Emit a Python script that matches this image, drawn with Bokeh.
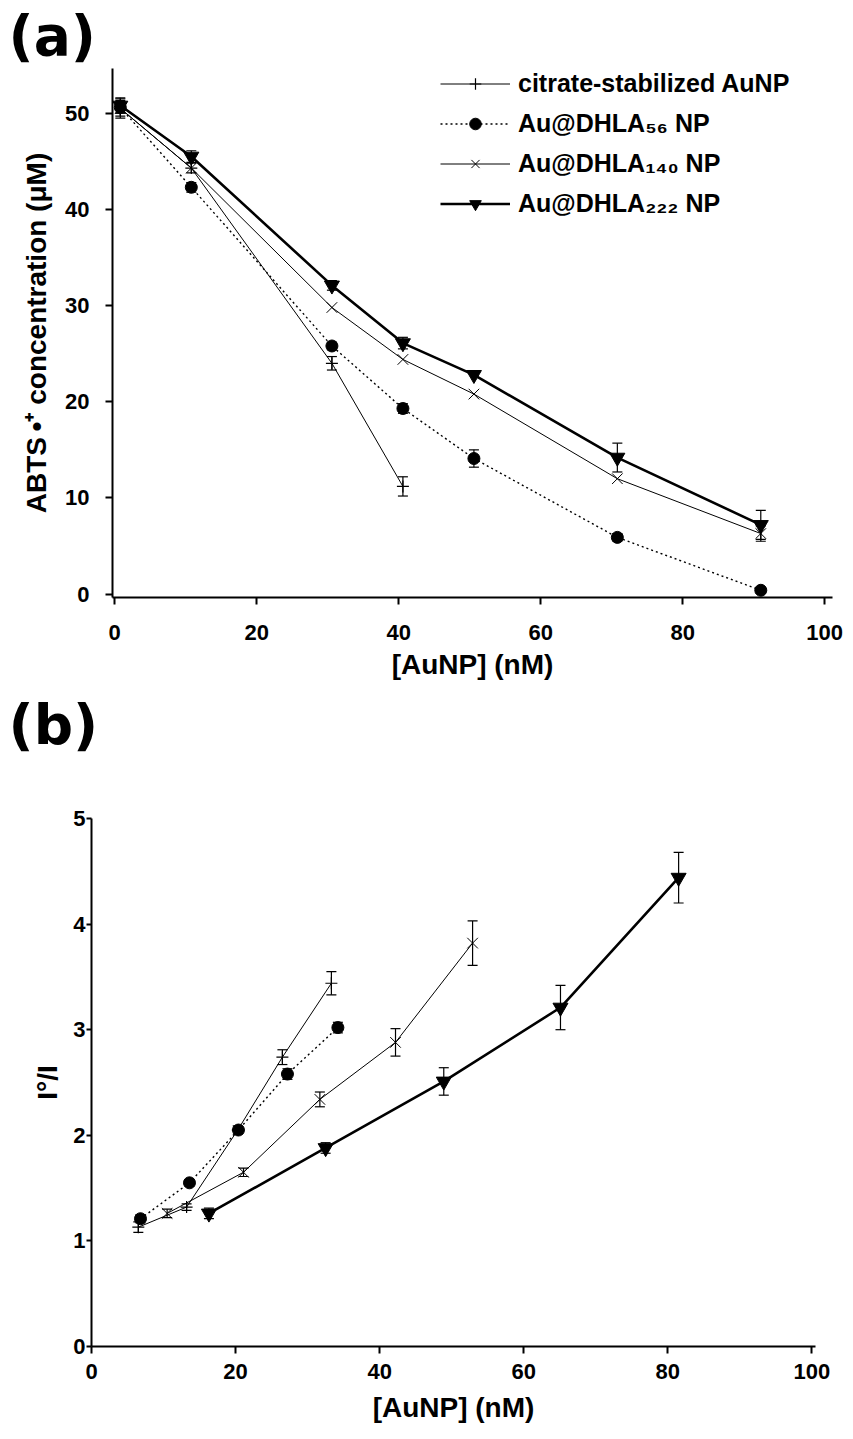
from bokeh.plotting import figure
from bokeh.models import (Whisker, TeeHead, ColumnDataSource, Legend, LegendItem,
                          Title, FixedTicker, Range1d)
from bokeh.embed import file_html
from bokeh.resources import INLINE

FONT = "Liberation Sans"
TITLE_FONT = "DejaVu Sans"

# ---------------- data: panel (a) ----------------
series_names = ["citrate-stabilized AuNP", "Au@DHLA\u2085\u2086 NP",
                "Au@DHLA\u2081\u2084\u2080 NP", "Au@DHLA\u2082\u2082\u2082 NP"]

a_citrate_x = [0.8, 10.8, 30.6, 40.6]
a_citrate_y = [50.5, 44.3, 24.0, 11.2]
a_citrate_err = [1.0, 0.5, 0.7, 1.0]

a_dhla56_x = [0.8, 10.8, 30.6, 40.6, 50.6, 70.8, 91.0]
a_dhla56_y = [50.6, 42.3, 25.8, 19.3, 14.1, 5.9, 0.4]
a_dhla56_err = [0.6, 0.5, 0.4, 0.5, 0.9, 0.4, 0.3]

a_dhla140_x = [0.8, 10.8, 30.6, 40.6, 50.6, 70.8, 91.0]
a_dhla140_y = [50.5, 44.3, 29.8, 24.4, 20.8, 12.0, 6.3]
a_dhla140_err = [0.8, 0.0, 0.0, 0.0, 0.0, 0.0, 0.8]

a_dhla222_x = [0.8, 10.8, 30.6, 40.6, 50.6, 70.8, 91.0]
a_dhla222_y = [50.8, 45.5, 32.1, 26.1, 22.8, 14.2, 7.2]
a_dhla222_err = [0.8, 0.6, 0.5, 0.6, 0.0, 1.5, 1.5]

a_xticks = [0, 20, 40, 60, 80, 100]
a_yticks = [0, 10, 20, 30, 40, 50]

# ---------------- data: panel (b) ----------------
b_citrate_x = [6.5, 13.2, 20.3, 26.5, 33.3]
b_citrate_y = [1.13, 1.32, 2.05, 2.74, 3.44]
b_citrate_err = [0.05, 0.03, 0.04, 0.07, 0.11]

b_dhla56_x = [6.8, 13.6, 20.4, 27.2, 34.2]
b_dhla56_y = [1.21, 1.55, 2.05, 2.58, 3.02]
b_dhla56_err = [0.04, 0.03, 0.03, 0.05, 0.05]

b_dhla140_x = [10.5, 21.1, 31.7, 42.2, 52.9]
b_dhla140_y = [1.26, 1.65, 2.34, 2.88, 3.82]
b_dhla140_err = [0.04, 0.04, 0.07, 0.13, 0.21]

b_dhla222_x = [16.3, 32.5, 48.9, 65.1, 81.5]
b_dhla222_y = [1.26, 1.88, 2.51, 3.21, 4.44]
b_dhla222_err = [0.05, 0.05, 0.13, 0.21, 0.24]

b_xticks = [0, 20, 40, 60, 80, 100]
b_yticks = [0, 1, 2, 3, 4, 5]

# ---------------- styles ----------------
styles = [
    dict(marker="cross", size=12, mlw=1.2, lw=1.0, dash="solid", fill="black"),
    dict(marker="circle", size=12, mlw=1.0, lw=1.4, dash="2 3", fill="black"),
    dict(marker="x", size=15, mlw=1.0, lw=1.0, dash="solid", fill=None),
    dict(marker="inverted_triangle", size=15, mlw=1.0, lw=2.6, dash="solid", fill="black"),
]


def style_axes(p, tick_size, label_size):
    for ax in (p.xaxis[0], p.yaxis[0]):
        ax.axis_line_width = 2
        ax.axis_line_color = "black"
        ax.major_tick_line_width = 2
        ax.major_tick_line_color = "black"
        ax.major_tick_out = 7
        ax.major_tick_in = 0
        ax.minor_tick_line_color = None
        ax.major_label_text_font = FONT
        ax.major_label_text_font_style = "bold"
        ax.major_label_text_font_size = tick_size
        ax.major_label_text_color = "black"
        ax.axis_label_text_font = FONT
        ax.axis_label_text_font_style = "bold"
        ax.axis_label_text_font_size = label_size
        ax.axis_label_text_color = "black"
    p.xgrid.grid_line_color = None
    p.ygrid.grid_line_color = None
    p.outline_line_color = None
    p.background_fill_color = "white"
    p.border_fill_color = "white"


def add_series(p, xs, ys, errs, st, tee):
    src = ColumnDataSource(dict(x=xs, y=ys))
    ln = p.line("x", "y", source=src, line_color="black", line_width=st["lw"],
                line_dash=st["dash"])
    sc = p.scatter("x", "y", source=src, marker=st["marker"], size=st["size"],
                   line_color="black", line_width=st["mlw"],
                   fill_color=st["fill"])
    ex, lo, hi = [], [], []
    for x, y, e in zip(xs, ys, errs):
        if e > 0:
            ex.append(x)
            lo.append(y - e)
            hi.append(y + e)
    if ex:
        wsrc = ColumnDataSource(dict(x=ex, lower=lo, upper=hi))
        w = Whisker(base="x", lower="lower", upper="upper", source=wsrc,
                    dimension="height", line_color="black", line_width=1.2,
                    upper_head=TeeHead(size=tee, line_color="black", line_width=1.2),
                    lower_head=TeeHead(size=tee, line_color="black", line_width=1.2))
        p.add_layout(w)
    return [ln, sc]


# ---------------- panel (a) ----------------
pa = figure(width=853, height=770, output_backend="svg", toolbar_location=None,
            x_range=Range1d(-0.3, 101.1), y_range=Range1d(-0.35, 54.65),
            min_border_left=112, min_border_right=21, min_border_top=68,
            min_border_bottom=173)
ta = Title(text="(a)", text_font=TITLE_FONT, text_font_style="bold",
           text_font_size="55px", text_color="black", offset=-104, standoff=2)
pa.add_layout(ta, "above")

a_data = [(a_citrate_x, a_citrate_y, a_citrate_err),
          (a_dhla56_x, a_dhla56_y, a_dhla56_err),
          (a_dhla140_x, a_dhla140_y, a_dhla140_err),
          (a_dhla222_x, a_dhla222_y, a_dhla222_err)]
items = []
for (xs, ys, es), st, name in zip(a_data, styles, series_names):
    rs = add_series(pa, xs, ys, es, st, 10)
    items.append(LegendItem(label=name, renderers=rs))

style_axes(pa, "22px", "28px")
pa.xaxis.ticker = FixedTicker(ticks=a_xticks)
pa.yaxis.ticker = FixedTicker(ticks=a_yticks)
pa.xaxis.axis_label = "[AuNP] (nM)"
pa.yaxis.axis_label = "ABTS\u2009\u2022\u207a concentration (\u03bcM)"
pa.xaxis.major_label_standoff = 20
pa.xaxis.axis_label_standoff = 6
pa.yaxis.major_label_standoff = 16
pa.yaxis.axis_label_standoff = 10

leg = Legend(items=items, location=(328, 379), orientation="vertical",
             label_text_font=FONT, label_text_font_style="bold",
             label_text_font_size="25px", label_text_color="black",
             glyph_width=70, glyph_height=29, label_height=29, spacing=11,
             padding=0, margin=0, label_standoff=8,
             border_line_color=None, background_fill_alpha=0)
pa.add_layout(leg, "center")

# panel (b) heading, placed in the space under panel (a)
tb = Title(text="(b)", text_font=TITLE_FONT, text_font_style="bold",
           text_font_size="55px", text_color="black", offset=-104, standoff=16)
pa.add_layout(tb, "below")

# ---------------- panel (b) ----------------
pb = figure(width=853, height=669, output_backend="svg", toolbar_location=None,
            x_range=Range1d(0, 100.5), y_range=Range1d(0, 5.0),
            min_border_left=91, min_border_right=38, min_border_top=48,
            min_border_bottom=93)

b_data = [(b_citrate_x, b_citrate_y, b_citrate_err),
          (b_dhla56_x, b_dhla56_y, b_dhla56_err),
          (b_dhla140_x, b_dhla140_y, b_dhla140_err),
          (b_dhla222_x, b_dhla222_y, b_dhla222_err)]
for (xs, ys, es), st in zip(b_data, styles):
    add_series(pb, xs, ys, es, st, 10)

style_axes(pb, "22px", "28px")
pb.xaxis.ticker = FixedTicker(ticks=b_xticks)
pb.yaxis.ticker = FixedTicker(ticks=b_yticks)
pb.xaxis.axis_label = "[AuNP] (nM)"
pb.yaxis.axis_label = "I\u00b0/I"
pb.xaxis.major_label_standoff = 10
pb.xaxis.axis_label_standoff = 10
pb.yaxis.major_tick_out = 5
pb.yaxis.major_label_standoff = 1
pb.yaxis.axis_label_standoff = 7

open("out.html", "w").write(file_html([pa, pb], INLINE))
